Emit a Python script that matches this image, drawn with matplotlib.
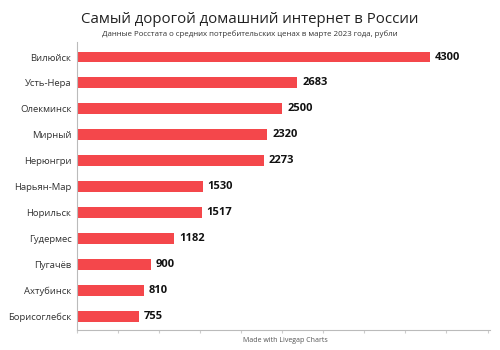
import matplotlib.pyplot as plt
import numpy as np

plt.rcParams['font.family'] = ['Open Sans', 'DejaVu Sans']

cities = ["Вилюйск", "Усть-Нера", "Олекминск", "Мирный", "Нерюнгри", "Нарьян-Мар",
          "Норильск", "Гудермес", "Пугачёв", "Ахтубинск", "Борисоглебск"]
prices = [4300, 2683, 2500, 2320, 2273, 1530, 1517, 1182, 900, 810, 755]

fig = plt.figure(figsize=(5, 3.5), dpi=100)
ax = fig.add_axes([0.154, 0.057, 0.826, 0.823])

y = np.arange(len(cities))
ax.barh(y, prices, height=0.42, color="#f4474b")
for yi, v in zip(y, prices):
    ax.text(v + 60, yi, str(v), va="center", ha="left", fontsize=8, fontweight="bold", color="#111111")

ax.set_yticks(y)
ax.set_yticklabels(cities, fontsize=6.8, color="#333333")
ax.set_ylim(len(cities) - 0.46, -0.58)
ax.set_xlim(0, 5030)
ax.set_xticks(np.arange(0, 5001, 500))
ax.set_xticklabels([])
ax.tick_params(axis="y", length=0, pad=4)
ax.tick_params(axis="x", length=2, color="#cccccc")
for s in ["top", "right"]:
    ax.spines[s].set_visible(False)
ax.spines["left"].set_color("#bbbbbb")
ax.spines["bottom"].set_color("#bbbbbb")
ax.spines["left"].set_linewidth(0.8)
ax.spines["bottom"].set_linewidth(0.8)

fig.text(0.5, 0.945, "Самый дорогой домашний интернет в России", ha="center", va="center",
         fontsize=10.8, color="#222222")
fig.text(0.5, 0.903, "Данные Росстата о средних потребительских ценах в марте 2023 года, рубли",
         ha="center", va="center", fontsize=5.7, color="#333333")
fig.text(0.57, 0.028, "Made with Livegap Charts", ha="center", va="center", fontsize=5, color="#555555")

fig.savefig("out.png", dpi=100, facecolor="white")
